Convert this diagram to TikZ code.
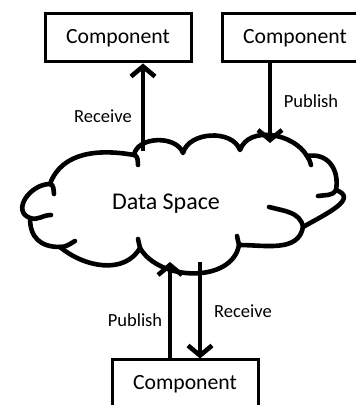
\documentclass[tikz,border=0pt]{standalone}
\usepackage{fontspec}
\setmainfont{Carlito}
\usetikzlibrary{arrows.meta}
\tikzset{
  comp/.style={draw=black, line width=3pt, fill=white, minimum width=146pt,
    minimum height=48pt, inner sep=0pt, font=\fontsize{21.7}{24}\selectfont},
  flow/.style={line width=4.6pt, -{Straight Barb[length=10pt,width=24pt,line width=4.6pt]}},
  lbl/.style={inner sep=0pt, font=\fontsize{18.5}{20}\selectfont},
  cloudline/.style={line width=4.6pt, line cap=round, line join=round},
}
\begin{document}
\begin{tikzpicture}[x=1pt,y=1pt]
\useasboundingbox (0,0) rectangle (356,405);
\clip (0,0) rectangle (356,405);

% components
\node[comp] (tl) at (118,367) {Component};
\node[comp] (tr) at (295,367) {Component};
\node[comp] (bt) at (185,21) {Component};

% cloud outline
\coordinate (A) at (50,221);
\coordinate (B) at (134,250);
\coordinate (C) at (183,252);
\coordinate (D) at (240,255);
\coordinate (E) at (307,249);
\coordinate (F) at (336,215);
\coordinate (G) at (303,178);
\coordinate (H) at (239,160);
\coordinate (I) at (140,157);
\coordinate (J) at (60,158);
\coordinate (K) at (30,187);
\draw[cloudline, fill=white]
  (A) to[out=70,in=170] (B)
      to[out=80,in=110] (C)
      to[out=75,in=110] (D)
      to[out=70,in=120] (E)
      to[out=10,in=80,looseness=1.2] (F)
      to[out=-20,in=30,looseness=1.3] (G)
      to[out=-100,in=0] (H)
      to[out=-100,in=-60] (I)
      to[out=-120,in=-40] (J)
      to[out=180,in=-90,looseness=1.2] (K)
      to[out=160,in=180,looseness=1.3] cycle;
% inner curls of the cloud
\draw[cloudline] (A) to[out=-10,in=100] (54,211);
\draw[cloudline] (B) to[out=-10,in=95] (138,240);
\draw[cloudline] (E) to[out=-60,in=100] (311,240);
\draw[cloudline] (F) to[out=-120,in=10] (318,209);
\draw[cloudline] (G) to[out=100,in=-15] (269,198);
\draw[cloudline] (H) to[out=100,in=-80] (237,169);
\draw[cloudline] (I) to[out=80,in=-100] (138,166);
\draw[cloudline] (J) to[out=0,in=-150] (75,164);
\draw[cloudline] (K) to[out=-20,in=180] (51,190);

\node[inner sep=0pt, font=\fontsize{24}{26}\selectfont] (ds) at (166,201) {Data Space};

% attachment points on the cloud
\coordinate (c1) at (143,254);
\coordinate (c2) at (270,262);
\coordinate (c3) at (170,143);
\coordinate (c4) at (200,143);

% connectors
\draw[flow] (c1) -- (c1 |- tl.south);
\draw[flow] (tr.south -| c2) -- (c2);
\draw[flow] (bt.north -| c3) -- (c3);
\draw[flow] (c4) -- (c4 |- bt.north);

% labels
\node[lbl] (l1) at (103,289) {Receive};
\node[lbl] (l2) at (311,304) {Publish};
\node[lbl] (l3) at (135,85) {Publish};
\node[lbl] (l4) at (243,94) {Receive};
\end{tikzpicture}
\end{document}
